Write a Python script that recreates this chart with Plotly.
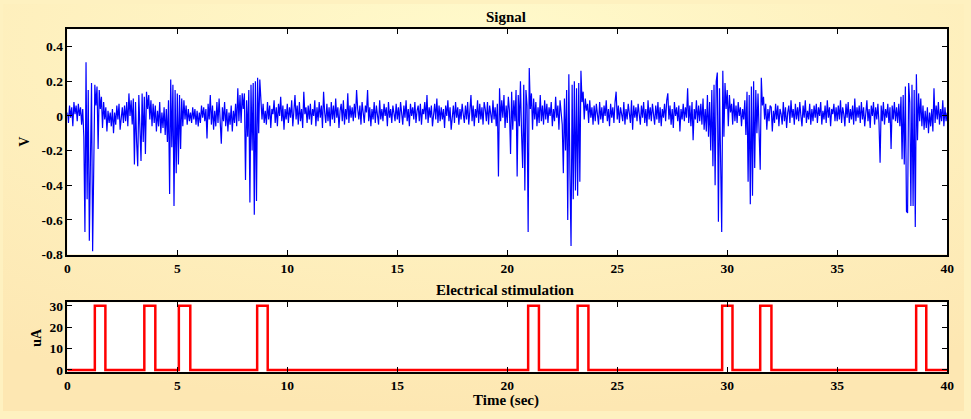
import base64
import numpy as np
import plotly.graph_objects as go

# Recorded signal, sampled every 50 ms, values in mV (one row per second)
sample_dt = 0.05
signal_mv = [
    20, -40, 60, -10, 50, -60, 80, 10, 60, -30, 70, 0, 50, -50, 40, -120, -670, 310, -480, 150,
    -720, -310, 190, -780, -400, 180, 60, 170, -190, 150, 40, 110, -70, 80, -20, 50, -90, 30, -40, 20,
    -60, 40, -100, 20, -50, 60, -20, 70, -80, 10, 50, -40, 60, -30, 80, -60, 130, 0, 90, -50,
    100, -280, 80, -150, -290, 120, -100, -260, 130, -150, 110, -220, 140, 40, 120, -20, 90, -60, 70, -40,
    60, -90, 30, -60, 80, -100, 20, -70, 50, -110, 40, -150, 90, -450, 210, -180, 180, -520, 150, -330,
    130, -280, 120, -190, 100, -60, 90, -20, 60, -50, 40, -30, 20, -40, 50, -20, 40, -50, 30, -60,
    20, -40, 60, -10, 50, -30, 40, -130, 70, -20, 120, -50, 60, -80, 30, -60, 80, -40, 100, -90,
    -160, 50, -30, 80, -60, 40, -90, 20, -50, 60, -90, 30, -40, 70, -60, 160, -30, 120, -40, 130,
    40, 130, -370, 90, -120, 150, -500, 180, -200, 190, -570, 200, -490, 220, -100, 210, 60, -20, 70, -40,
    30, -50, 80, -20, 60, -70, 40, 10, 90, -40, 50, -60, 70, 0, 110, -30, 60, -80, 40, -20,
    70, -40, 50, -10, 90, -60, 30, 120, -20, 60, -50, 80, -30, 40, -70, 140, 10, 50, -40, 60,
    -20, 70, -50, 40, 0, 90, -60, 50, -30, 80, -10, 60, -70, 140, 20, -40, 70, -30, 50, -60,
    80, -20, 60, -40, 100, -10, 50, -70, 30, 70, -30, 90, -50, 40, -20, 130, -40, 60, -10, 50,
    -30, 70, -10, 150, 40, -20, 60, -50, 80, 10, -40, 60, 20, 150, -30, 50, -60, 40, -20, 80,
    -40, 60, 10, -50, 90, -20, 40, -30, 70, 0, 50, -60, 80, -10, 40, -40, 60, 20, -30, 70,
    -20, 50, -40, 80, 10, -50, 60, -10, 90, -30, 40, -60, 70, 0, 50, -20, 80, -40, 30, 60,
    -30, 70, -50, 40, 10, 80, -20, 120, -40, 50, -10, 60, -60, 30, 70, -20, 100, -40, 60, -30,
    50, -20, 40, -70, 60, 0, 90, -30, 50, -80, 20, 60, -40, 80, -10, 50, -50, 40, -20, 70,
    10, -40, 60, -20, 80, -50, 30, 120, -30, 60, -60, 40, -10, 90, -40, 70, -20, 50, -50, 80,
    40, -30, 80, -50, 60, 10, -40, 90, -20, 50, -60, 70, -350, 160, -30, 90, -10, 120, -70, 60,
    -40, 110, 30, -220, 140, -80, 90, -30, 150, -350, 120, -60, 200, -100, -300, 180, -430, 150, 60, -670,
    276, 40, 130, -80, 100, -20, 80, -60, 50, -40, 120, -30, 60, -50, 90, -20, 70, -40, 50, 0,
    80, -60, 40, -30, 110, -10, 60, -80, 90, 20, -50, -330, 100, -200, 150, -600, 240, -330, -750, 180,
    -480, 200, -430, 160, -460, 190, -380, 260, 80, 140, -20, 100, 30, 70, -40, 90, -10, 50, -50, 60,
    -30, 70, 10, -50, 80, -20, 50, -40, 60, 0, 90, -30, 40, -60, 70, -10, 50, -40, 80, 140,
    -20, 60, -40, 50, 10, -30, 80, -50, 40, -20, 70, 0, -40, 90, -80, 60, -10, 50, -30, 70,
    20, -50, 60, -10, 80, -40, 40, -60, 90, -20, 50, -30, 70, 10, -50, 60, -20, 80, -40, 50,
    -60, 40, -10, 70, -30, 90, 130, -20, 60, -50, 40, -70, 80, 0, 50, -30, 60, -90, 40, -20,
    70, -30, 50, -10, 160, -40, 60, -60, 80, -140, 40, -20, 90, -40, 60, -30, 70, -50, 100, -80,
    40, -90, 120, -120, 80, -200, 150, -290, 180, -400, 200, 250, -610, 160, -400, -670, 260, -120, 190, 40,
    150, -60, 120, 20, 70, -50, 100, -30, 60, -40, 80, 0, 50, -60, 40, -20, 90, -110, 140, -380,
    120, -510, 170, -460, 200, -300, 150, -100, 130, -60, -310, 220, 60, 110, -20, 70, -80, 40, -30, 60,
    50, -90, 30, -40, 70, -20, 60, -60, 40, 10, -50, 80, -30, 50, -70, 20, 60, -40, 90, -10,
    40, -50, 70, -20, 50, -30, 80, 0, -60, 60, -10, 90, -40, 30, -20, 70, -50, 40, -30, 60,
    -10, 70, -40, 50, 0, 80, -50, 30, -20, 60, -40, 90, -10, 50, -60, 40, 10, 70, -30, 50,
    -30, 60, -20, 90, -40, 50, 10, -60, 70, -10, 80, -40, 40, -20, 60, -50, 100, -30, 50, -10,
    60, -40, 80, -20, 50, -60, 30, 90, -30, 40, -70, 60, 0, 80, -50, 50, -20, 70, -40, -270,
    60, -30, 80, -50, 40, -10, 70, -40, 50, -190, 60, -20, 80, -30, 50, -40, 70, -60, 110, -250,
    120, -280, 170, -550, -560, 190, 80, -520, 180, -520, 150, -640, 240, -140, 130, -30, 100, -60, 60, -80,
    30, -70, 50, -100, 20, -60, 40, -90, 160, -40, 60, -20, 80, -50, 40, -30, 90, -60, 50, -30,
    20,
]

# Stimulation pulses (seconds) and their amplitude (uA)
stim_on = [1.25, 3.50, 5.07, 8.63, 20.95, 23.20, 29.77, 31.50, 38.59]
stim_off = [1.73, 4.00, 5.59, 9.11, 21.44, 23.69, 30.24, 32.01, 39.05]
stim_amp = 30
t_end = 40

x_ticks = [0, 5, 10, 15, 20, 25, 30, 35, 40]
v_ticks = [-0.8, -0.6, -0.4, -0.2, 0, 0.2, 0.4]
ua_ticks = [0, 10, 20, 30]

time = np.arange(len(signal_mv)) * sample_dt
signal_v = np.array(signal_mv) / 1000.0

stim_t, stim_v = [0], [0]
for on, off in zip(stim_on, stim_off):
    stim_t += [on, on, off, off]
    stim_v += [0, stim_amp, stim_amp, 0]
stim_t.append(t_end)
stim_v.append(0)

W, H = 971, 419
x0, x1 = 65 / W, 954 / W
top_dom = [1 - 258 / H, 1 - 26 / H]
bot_dom = [1 - 379 / H, 1 - 307 / H]

serif = "Liberation Serif"
tick_font = dict(family=serif, size=13.5, color="black", weight="bold")
title_font = dict(family=serif, size=15, color="black", weight="bold")
ylabel_font = dict(family=serif, size=14, color="black", weight="bold")

fig = go.Figure()
fig.add_trace(go.Scatter(x=time, y=signal_v, mode="lines",
                         line=dict(color="#0000FF", width=1.2),
                         xaxis="x", yaxis="y", showlegend=False))
fig.add_trace(go.Scatter(x=stim_t, y=stim_v, mode="lines",
                         line=dict(color="#FF0000", width=2.5),
                         xaxis="x2", yaxis="y2", showlegend=False))

axis_common = dict(showline=True, linecolor="black", linewidth=1.5, mirror="allticks",
                   ticks="inside", ticklen=5, tickwidth=1, tickcolor="black",
                   showgrid=False, zeroline=False, tickfont=tick_font)

# Pale yellow backdrop
svg = (f'<svg xmlns="http://www.w3.org/2000/svg" width="{W}" height="{H}">'
       '<defs><radialGradient id="g" cx="50%" cy="10%" r="90%">'
       '<stop offset="0%" stop-color="#FFFACB"/>'
       '<stop offset="100%" stop-color="#FDE7B2"/></radialGradient></defs>'
       f'<rect width="{W}" height="{H}" fill="url(#g)"/></svg>')
bg_src = "data:image/svg+xml;base64," + base64.b64encode(svg.encode()).decode()

# White panels over the backdrop
panels = [dict(type="rect", xref=f"{xa} domain", yref=f"{ya} domain", x0=0, x1=1, y0=0, y1=1,
               fillcolor="white", line=dict(width=0), layer="below")
          for xa, ya in (("x", "y"), ("x2", "y2"))]


def label(text, px, py, font, angle=0):
    return dict(text=text, x=px / W, y=1 - py / H, xref="paper", yref="paper",
                xanchor="center", yanchor="middle", textangle=angle,
                showarrow=False, font=font)


fig.update_layout(
    width=W, height=H,
    margin=dict(l=0, r=0, t=0, b=0),
    paper_bgcolor="#FEF1C0", plot_bgcolor="white",
    images=[dict(source=bg_src, xref="paper", yref="paper", x=0, y=1,
                 sizex=1, sizey=1, sizing="stretch", layer="below",
                 xanchor="left", yanchor="top")],
    shapes=panels,
    xaxis=dict(domain=[x0, x1], range=[0, 40], tickvals=x_ticks, anchor="y", **axis_common),
    yaxis=dict(domain=top_dom, range=[-0.8, 0.5], tickvals=v_ticks,
               ticktext=[f"{v:g}" for v in v_ticks], anchor="x", **axis_common),
    xaxis2=dict(domain=[x0, x1], range=[0, 40], tickvals=x_ticks, anchor="y2", **axis_common),
    yaxis2=dict(domain=bot_dom, range=[-1.05, 31.7], tickvals=ua_ticks, anchor="x2", **axis_common),
    annotations=[
        label("Signal", 508, 13, title_font),
        label("Electrical stimulation", 508, 294, title_font),
        label("Time (sec)", 508, 408, title_font),
        label("V", 22, 142, ylabel_font, -90),
        label("uA", 34, 343, ylabel_font, -90),
    ],
)

fig.write_html("out.html")
